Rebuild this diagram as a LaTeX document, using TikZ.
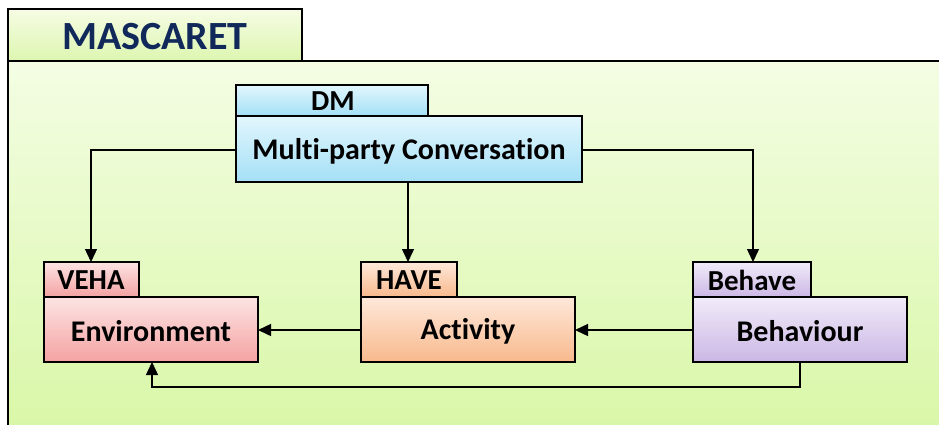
\documentclass[tikz,border=0pt]{standalone}
\usepackage{fontspec}
\setmainfont{Carlito}[Ligatures={NoCommon}]
\usetikzlibrary{arrows.meta}
\definecolor{navy}{HTML}{10285A}
\definecolor{grT}{HTML}{F4FDE4}
\definecolor{grB}{HTML}{D8F7A6}
\definecolor{tgT}{HTML}{F6FCE4}
\definecolor{tgB}{HTML}{DDF6B0}
\definecolor{blT}{HTML}{E2F6FD}
\definecolor{blB}{HTML}{A4E0F6}
\definecolor{rdT}{HTML}{FDE4E4}
\definecolor{rdB}{HTML}{F4A2A2}
\definecolor{orT}{HTML}{FEE8DA}
\definecolor{orB}{HTML}{F8B98C}
\definecolor{vlT}{HTML}{F1EBF9}
\definecolor{vlB}{HTML}{CBB7E5}
\tikzset{
  tabbox/.style 2 args={draw=black,line width=1.8pt,top color=#1,bottom color=#2},
  lbl/.style={font=\bfseries\fontsize{30}{32}\selectfont,text=black},
  tablbl/.style={font=\bfseries\fontsize{29}{30}\selectfont,text=black},
  conn/.style={draw=black,line width=1.4pt,-{Triangle[length=13pt,width=12pt]}}
}
\begin{document}
\begin{tikzpicture}[x=1pt,y=-1pt]
\useasboundingbox (0,0) rectangle (939,424);
% MASCARET frame
\path[tabbox={tgT}{tgB}] (8,9) rectangle (302,61);
\path[tabbox={grT}{grB}] (8,61) rectangle (950,440);
\node[font=\bfseries\fontsize{40}{42}\selectfont,text=navy] (title) at (155,37) {MASCARET};
% DM
\path[tabbox={blT}{blB}] (236,85) rectangle (428,116);
\node[tablbl] (dmt) at (333,101) {DM};
\path[tabbox={blT}{blB}] (236,116) rectangle (582,182);
\node[lbl] (dm) at (409,151) {Multi-party Conversation};
\coordinate (dmL) at (236,150);
\coordinate (dmR) at (582,150);
\coordinate (dmB) at (408,182);
% VEHA
\path[tabbox={rdT}{rdB}] (44,262) rectangle (139,297);
\node[tablbl] (vt) at (91,280) {VEHA};
\path[tabbox={rdT}{rdB}] (44,297) rectangle (258,362);
\node[lbl] (env) at (151,331) {Environment};
% HAVE
\path[tabbox={orT}{orB}] (361,262) rectangle (457,297);
\node[tablbl] (ht) at (409,280) {HAVE};
\path[tabbox={orT}{orB}] (361,297) rectangle (575,362);
\node[lbl] (act) at (468,331) {Activity};
% Behave
\path[tabbox={vlT}{vlB}] (693,262) rectangle (811,297);
\node[tablbl] (bt) at (752,280) {Behave};
\path[tabbox={vlT}{vlB}] (693,297) rectangle (907,362);
\node[lbl] (beh) at (800,331) {Behaviour};
% anchor coordinates
\coordinate (vtT) at (91,262);
\coordinate (htT) at (408,262);
\coordinate (btT) at (753,262);
\coordinate (envR) at (258,330);
\coordinate (envB) at (152,362);
\coordinate (actL) at (361,330);
\coordinate (actR) at (575,330);
\coordinate (behL) at (693,330);
\coordinate (behB) at (800,362);
\coordinate (loopR) at (800,387);
% connectors
\draw[conn] (dmL) -| (vtT);
\draw[conn] (dmB) -- (htT);
\draw[conn] (dmR) -| (btT);
\draw[conn] (behL) -- (actR);
\draw[conn] (actL) -- (envR);
\draw[conn] (behB) -- (loopR) -| (envB);
\end{tikzpicture}
\end{document}
